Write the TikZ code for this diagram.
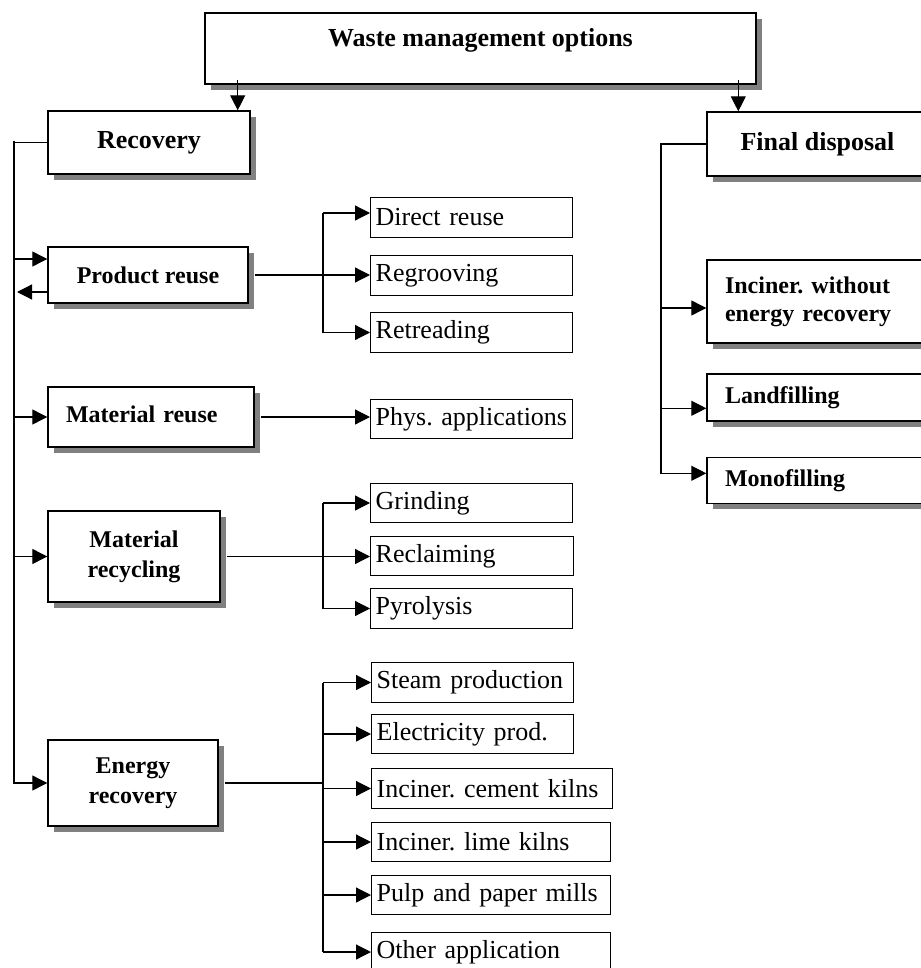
\documentclass[tikz,border=0pt]{standalone}
\usepackage{fontspec}
\setmainfont{Liberation Serif}
\usepackage{tikz}
\usetikzlibrary{arrows.meta,shadows}

\def\headfont{\bfseries\fontsize{13pt}{15.6pt}\selectfont}
\frenchspacing

\begin{document}
\begin{tikzpicture}[x=0.5pt,y=-0.5pt,line width=0.6pt,
	mainbox/.style={draw, line width=0.7pt, fill=white, inner sep=0pt, align=center,
		font=\bfseries\fontsize{12pt}{15pt}\selectfont,
		drop shadow={shadow xshift=3pt, shadow yshift=-3pt, fill=black!50, opacity=1}},
	leftbox/.style={mainbox, align=left, inner xsep=9pt, text width=#1},
	leafbox/.style={draw, line width=0.7pt, anchor=west, inner xsep=2.5pt, inner ysep=0pt,
		text width=#1, align=left, minimum height=19.75pt,
		font=\fontsize{13pt}{15.6pt}\selectfont},
	arr/.style={-{Triangle[length=7.5pt,width=7.5pt]}}]

\useasboundingbox (0,0) rectangle (920,968);

% ------------------------------------------------------

\node[mainbox, font=\headfont, minimum width=275.5pt, minimum height=35.5pt,
	text height=8.9pt, text depth=10.8pt] (top) at (480.5,48.5) {Waste management options};

\node[mainbox, font=\headfont, minimum width=101pt, minimum height=31.5pt] (rec) at (149,142.5) {Recovery};

\node[mainbox, font=\headfont, minimum width=110.5pt, minimum height=32pt] (fin) at (817.5,144) {Final disposal};

\node[mainbox, minimum width=100pt, minimum height=28pt] (pr) at (148,275) {Product reuse};

\node[leftbox=85pt, minimum height=30pt, text depth=3pt] (mr) at (151,417) {Material reuse};

\node[mainbox, minimum width=86pt, minimum height=45.5pt] (mrc) at (134,556.5) {Material\\recycling};

\node[mainbox, minimum width=85pt, minimum height=43pt] (er) at (133,783) {Energy\\recovery};

\node[leftbox=93.5pt, font=\bfseries\fontsize{12pt}{14pt}\selectfont, minimum height=41.5pt] (inc) at (818.5,301.5) {Inciner. without\\energy recovery};

\node[leftbox=93.5pt, minimum height=23.5pt] (land) at (818.5,397.5) {Landfilling};

\node[leftbox=93.5pt, minimum height=23pt] (mono) at (818.5,480.3) {Monofilling};

% ------------------------------------------------------

\node[leafbox=96pt] (dr) at (370,217.5) {Direct reuse};
\node[leafbox=96pt] (rg) at (370,275.5) {Regrooving};
\node[leafbox=96pt] (rt) at (370,332.5) {Retreading};

\node[leafbox=96pt] (pa) at (370,419) {Phys. applications};

\node[leafbox=96pt] (gr) at (370,503) {Grinding};
\node[leafbox=96.5pt] (rc) at (370,556) {Reclaiming};
\node[leafbox=96pt] (py) at (370,608.5) {Pyrolysis};

\node[leafbox=96pt] (sp) at (371,682.5) {Steam production};
\node[leafbox=96pt] (ep) at (371,734) {Electricity prod.};
\node[leafbox=115.5pt] (ick) at (371,788.5) {Inciner. cement kilns};
\node[leafbox=114.5pt] (ilk) at (371,842) {Inciner. lime kilns};
\node[leafbox=114.5pt] (pp) at (371,895) {Pulp and paper mills};
\node[leafbox=114.5pt] (oa) at (371,952) {Other application};

% ------------------------------------------------------

\coordinate (lx) at (14,141);
\coordinate (rx) at (661,0);
\coordinate (bx) at (323,0);

\coordinate (rin) at ([xshift=-6.5pt]rec.north east);
\coordinate (fdin) at ([xshift=16pt]fin.north west);

\draw[arr] ([yshift=2.5pt]top.south -| rin) -- (rin);
\draw[arr] ([yshift=2.5pt]top.south -| fdin) -- (fdin);

\draw (rec.west) -- (rec.west -| lx);
\draw[arr] (lx) |- (er.west);

\draw[arr] ([yshift=8pt]pr.west -| lx) -- ([yshift=8pt]pr.west);
\draw[arr, shorten >=1.5pt] ([yshift=-8.5pt]pr.west) -- ([yshift=-8.5pt]pr.west -| lx);
\draw[arr] (mr.west -| lx) -- (mr.west);
\draw[arr] (mrc.west -| lx) -- (mrc.west);

\draw[arr] ([xshift=3pt]pr.east) -- (pr.east -| rg.west);
\draw[arr] ([yshift=2.25pt]dr.west -| bx) -- ([yshift=2.25pt]dr.west);
\draw[arr] ([yshift=2.25pt]dr.west -| bx) |- (rt.west);

\draw[arr] ([xshift=3pt]mr.east) -- (mr.east -| pa.west);

\draw[arr] ([xshift=3pt]mrc.east) -- (mrc.east -| rc.west);
\draw[arr] (gr.west -| bx) -- (gr.west);
\draw[arr] (gr.west -| bx) |- (py.west);

\draw ([xshift=3pt]er.east) -- (er.east -| bx);
\draw (sp.west -| bx) -- (oa.west -| bx);
\foreach \n in {sp,ep,ick,ilk,pp,oa}
	\draw[arr] (\n.west -| bx) -- (\n.west);

\draw[arr] (fin.west) -| ([yshift=3.5pt]mono.west -| rx) -- ([yshift=3.5pt]mono.west);
\draw[arr] ([yshift=-3.25pt]inc.west -| rx) -- ([yshift=-3.25pt]inc.west);
\draw[arr] ([yshift=-5.4pt]land.west -| rx) -- ([yshift=-5.4pt]land.west);

\end{tikzpicture}
\end{document}
